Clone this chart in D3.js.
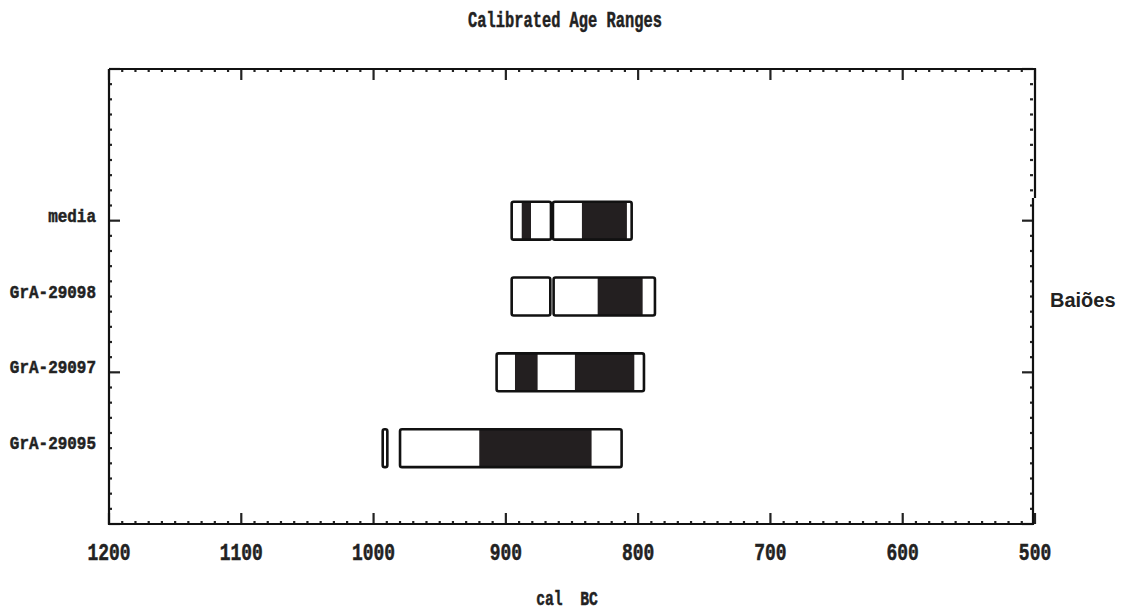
<!DOCTYPE html>
<html><head><meta charset="utf-8">
<script src="https://cdn.jsdelivr.net/npm/d3@7"></script>
<style>body{margin:0;background:#fff}svg{display:block}</style>
</head><body>
<script>
const samples = ["media", "GrA-29098", "GrA-29097", "GrA-29095"];
const rowPos = [4, 3, 2, 1];
// 2-sigma ranges (white boxes), cal BC [from, to]
const twoSigma = [
  [[895.6, 865.9], [864.4, 804.9]],
  [[895.6, 866.4], [863.9, 787.3]],
  [[907.0, 795.6]],
  [[993.1, 989.6], [980.0, 812.5]]
];
// 1-sigma ranges (black fills)
const oneSigma = [
  [[888.0, 881.0], [842.5, 808.5]],
  [[830.6, 796.6]],
  [[893.1, 876.0], [847.8, 802.9]],
  [[920.1, 835.2]]
];
const xTicks = [1200, 1100, 1000, 900, 800, 700, 600, 500];
const titleText = "Calibrated Age Ranges";
const xTitle = "cal  BC";
const siteLabel = "Baiões";

const W = 1123, H = 613;
const L = 109, R = 1035, T = 69, B = 524;
const mono = "'Liberation Mono', 'DejaVu Sans Mono', monospace";
const ink = "#222";

const svg = d3.select("body").append("svg").attr("width", W).attr("height", H);
const x = d3.scaleLinear().domain([1200, 500]).range([L, R]);
const y = d3.scaleLinear().domain([0, 6]).range([B, T]);

function monoText(px, py, str, size, sx, anchor) {
  svg.append("g").attr("transform", `translate(${px},${py}) scale(${sx},1)`)
    .append("text").attr("text-anchor", anchor)
    .attr("xml:space", "preserve").style("white-space", "pre")
    .attr("font-family", mono).attr("font-weight", "bold").attr("font-size", size)
    .attr("fill", ink).attr("stroke", ink).attr("stroke-width", 0.5)
    .text(str);
}

// minor/major ticks
const minorX = d3.range(1200, 499, -10);
const minorY = d3.range(0, 6.01, 0.2).map(v => +v.toFixed(1));
const tk = svg.append("g").attr("stroke", "#222").attr("stroke-width", 2.2);
minorX.forEach(v => {
  const major = v % 100 === 0;
  const len = major ? 11 : 3;
  tk.append("line").attr("x1", x(v)).attr("x2", x(v)).attr("y1", B).attr("y2", B - len);
  tk.append("line").attr("x1", x(v)).attr("x2", x(v)).attr("y1", T).attr("y2", T + len);
});
minorY.forEach(v => {
  const major = Math.abs(v % 2) < 1e-6;
  const len = major ? 11 : 3;
  tk.append("line").attr("x1", L).attr("x2", L + len).attr("y1", y(v)).attr("y2", y(v));
  tk.append("line").attr("x1", R - 2).attr("x2", R - 2 - len).attr("y1", y(v)).attr("y2", y(v));
});

// frame
const fr = svg.append("g").attr("stroke", "#111").attr("stroke-width", 2.2).attr("fill", "none");
fr.append("path").attr("d", `M${L},${T}H${R}V${y(4.3)}`);
fr.append("path").attr("d", `M${R-2},${y(4.3)}V${B}H${L}V${T}`);

// bars
const bh = y(0) - y(0.5);
samples.forEach((s, i) => {
  const cy = y(rowPos[i]);
  const g = svg.append("g");
  twoSigma[i].forEach(r => {
    g.append("rect").attr("x", x(r[0])).attr("y", cy - bh / 2)
      .attr("width", x(r[1]) - x(r[0])).attr("height", bh)
      .attr("fill", "#fff");
  });
  oneSigma[i].forEach(r => {
    g.append("rect").attr("x", x(r[0])).attr("y", cy - bh / 2)
      .attr("width", x(r[1]) - x(r[0])).attr("height", bh)
      .attr("fill", "#231f20");
  });
  twoSigma[i].forEach(r => {
    g.append("rect").attr("x", x(r[0])).attr("y", cy - bh / 2)
      .attr("width", x(r[1]) - x(r[0])).attr("height", bh)
      .attr("rx", 2).attr("fill", "none").attr("stroke", "#111").attr("stroke-width", 2.6);
  });
  monoText(96, cy + 1, s, 19, 0.84, "end");
});

// x tick labels
xTicks.forEach(v => monoText(x(v), 560, String(v), 23, 0.78, "middle"));

monoText(565, 27, titleText, 22, 0.7, "middle");
monoText(567, 605, xTitle, 21, 0.7, "middle");
svg.append("text").attr("x", 1050).attr("y", 307)
  .attr("font-family", "'Liberation Sans', Arial, sans-serif").attr("font-weight", "bold")
  .attr("font-size", 20).attr("fill", ink).text(siteLabel);
</script>
</body></html>
